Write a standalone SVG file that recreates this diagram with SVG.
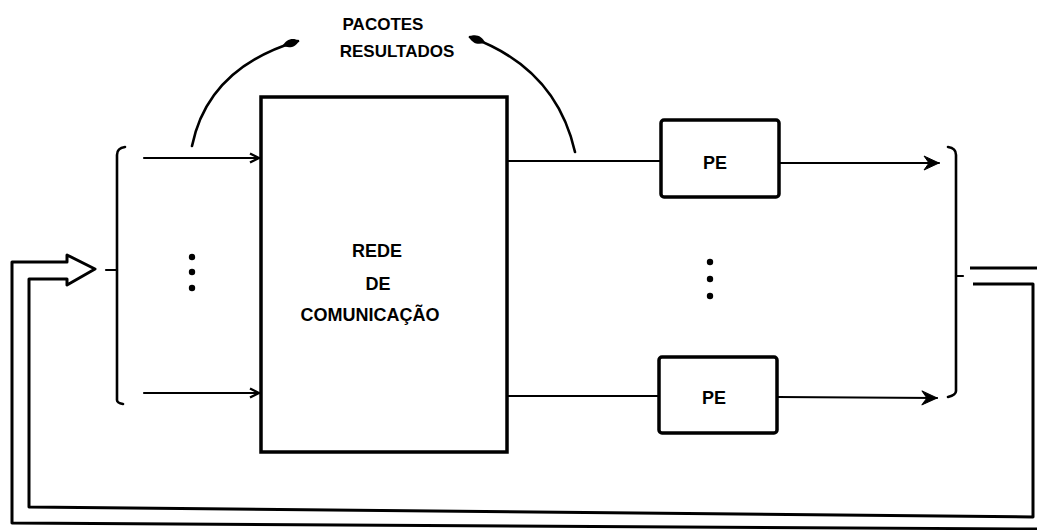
<svg xmlns="http://www.w3.org/2000/svg" width="1037" height="530" viewBox="0 0 1037 530">
<style>
.ln{fill:none;stroke:#000;stroke-width:2.2;stroke-linecap:round;stroke-linejoin:round}
.bx{fill:#fff;stroke:#000;stroke-width:3.5}
.lp{fill:none;stroke:#000;stroke-width:3;stroke-linejoin:round}
.t{font-family:"Liberation Sans",Arial,sans-serif;font-weight:bold;fill:#000;text-anchor:middle}
.dot{fill:#000}
</style>
<defs>
<marker id="open" markerWidth="12" markerHeight="12" refX="11" refY="6" orient="auto" markerUnits="userSpaceOnUse">
<path d="M2,1.5 L11,6 L2,10.5" fill="none" stroke="#000" stroke-width="2.4"/>
</marker>
<marker id="solid" markerWidth="18" markerHeight="16" refX="16" refY="8" orient="auto" markerUnits="userSpaceOnUse">
<path d="M1,1 L16,8 L1,15 L6,8 Z" fill="#000" stroke="#000" stroke-width="1" stroke-linejoin="round"/>
</marker>
<marker id="blob" markerWidth="18" markerHeight="12" refX="16" refY="6" orient="auto" markerUnits="userSpaceOnUse">
<path d="M0,6 C5,1 12,0.5 17,6 C12,11.5 5,11 0,6 Z" fill="#000"/>
</marker>
</defs>

<g id="connectors">
<path class="ln" d="M125,147 Q117,148 117,155 L117,400 Q117,403 123,404" style="stroke-width:2.6"/>
<path class="ln" d="M106,270 L117,270"/>
<path class="ln" d="M144,158 L259,158" marker-end="url(#open)"/>
<path class="ln" d="M144,393 L259,393" marker-end="url(#open)"/>
<path class="ln" d="M507,161 L661,161"/>
<path class="ln" d="M507,396 L659,396"/>
<path class="ln" d="M779,163 L939,163" marker-end="url(#solid)"/>
<path class="ln" d="M777,397 L937,398" marker-end="url(#solid)"/>
<path class="ln" d="M948,147 Q956,148 956,155 L956,391 Q956,395 948,397" style="stroke-width:2.6"/>
<path class="ln" d="M956,276 L963,276"/>
<path class="ln" d="M192,146 Q208,68 298,41" style="stroke-width:2.6" marker-end="url(#blob)"/>
<path class="ln" d="M575,152 Q556,68 470,37" style="stroke-width:2.6" marker-end="url(#blob)"/>
<path class="lp" d="M1037,529 L12,523 L12,262 L67,262 L67,255 L95,269 L67,285 L67,279 L29,279 L29,507 L1033,517 L1033,284 L973,284"/>
<path class="lp" d="M970,268 L1037,268"/>
</g>

<g id="rede">
<rect class="bx" x="261" y="97" width="246" height="355"/>
<text class="t" x="377" y="257" font-size="18">REDE</text>
<text class="t" x="378" y="290" font-size="18">DE</text>
<text class="t" x="370" y="321" font-size="18">COMUNICAÇÃO</text>
</g>

<g id="pe1">
<rect class="bx" x="661" y="120" width="118" height="77" rx="3"/>
<text class="t" x="715" y="169" font-size="18">PE</text>
</g>

<g id="pe2">
<rect class="bx" x="659" y="357" width="118" height="76" rx="3"/>
<text class="t" x="714" y="404" font-size="18">PE</text>
</g>

<g id="label">
<text class="t" x="383" y="30" font-size="17">PACOTES</text>
<text class="t" x="397" y="57" font-size="17">RESULTADOS</text>
</g>

<g id="dots-left">
<circle class="dot" cx="192" cy="257" r="3.2"/>
<circle class="dot" cx="192" cy="272" r="3.2"/>
<circle class="dot" cx="192" cy="288" r="3.2"/>
</g>
<g id="dots-right">
<circle class="dot" cx="710" cy="262" r="3.2"/>
<circle class="dot" cx="710" cy="279" r="3.2"/>
<circle class="dot" cx="710" cy="296" r="3.2"/>
</g>
</svg>
